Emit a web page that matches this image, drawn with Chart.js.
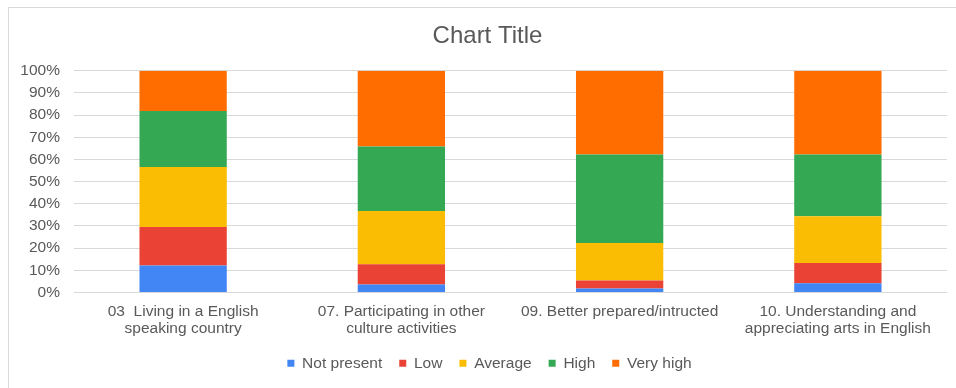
<!DOCTYPE html>
<html>
<head>
<meta charset="utf-8">
<script src="https://cdn.jsdelivr.net/npm/chart.js@4/dist/chart.umd.min.js"></script>
<style>
  html, body { margin: 0; padding: 0; background: #ffffff; overflow: hidden; }
  #wrap { position: relative; width: 956px; height: 388px; overflow: hidden; }
  #frame { position: absolute; left: 8px; top: 7px; width: 1200px; height: 600px;
           border-left: 1px solid #d9d9d9; border-top: 1px solid #d9d9d9; box-sizing: border-box; }
  #c { position: absolute; left: 0; top: 0; }
</style>
</head>
<body>
<div id="wrap">
  <div id="frame"></div>
  <canvas id="c" width="956" height="388"></canvas>
</div>
<script>
// Survey items (multi-line axis labels)
const categories = [
  ["03  Living in a English", "speaking country"],
  ["07. Participating in other", "culture activities"],
  ["09. Better prepared/intructed"],
  ["10. Understanding and", "appreciating arts in English"]
];

// Share of answers per rating level (%)
const notPresent = [12.2, 3.6, 1.8, 4.2];
const low        = [17.4, 9.1, 3.6, 9.1];
const average    = [27.0, 24.1, 16.9, 21.1];
const high       = [25.3, 29.0, 39.9, 27.8];
const veryHigh   = [18.1, 34.2, 37.8, 37.8];

const seriesNames = ["Not present", "Low", "Average", "High", "Very high"];
const seriesColors = ["#4285F4", "#EA4335", "#FBBC04", "#34A853", "#FF6D01"];
const seriesValues = [notPresent, low, average, high, veryHigh];

// Percentage tick labels on the value axis
const yTickValues = [0, 10, 20, 30, 40, 50, 60, 70, 80, 90, 100];

Chart.defaults.font.family = "'Liberation Sans', Arial, sans-serif";
Chart.defaults.color = "#595959";

// Centre the title and legend on the whole framed card rather than the canvas
const centreOnCard = {
  id: "centreOnCard",
  afterLayout(chart) {
    if (chart.titleBlock) { chart.titleBlock.left += 14; chart.titleBlock.right += 14; }
    if (chart.legend) { chart.legend.left += 16; chart.legend.right += 16; }
  }
};

new Chart(document.getElementById("c"), {
  type: "bar",
  data: {
    labels: categories,
    datasets: seriesNames.map((name, i) => ({
      label: name,
      data: seriesValues[i],
      backgroundColor: seriesColors[i],
      borderWidth: 0,
      categoryPercentage: 1.0,
      barPercentage: 0.4
    }))
  },
  plugins: [centreOnCard],
  options: {
    responsive: false,
    animation: false,
    layout: { padding: { left: 0, right: 9, top: 0, bottom: 7 } },
    plugins: {
      title: {
        display: true,
        text: "Chart Title",
        color: "#595959",
        font: { size: 24, weight: "normal" },
        padding: { top: 22, bottom: 20 }
      },
      legend: {
        position: "bottom",
        labels: {
          boxWidth: 7,
          boxHeight: 7,
          padding: 17,
          color: "#595959",
          font: { size: 15.5 }
        }
      },
      tooltip: { enabled: false }
    },
    scales: {
      x: {
        stacked: true,
        afterFit: (scale) => { scale.height = 46; },
        grid: { display: false, drawTicks: false },
        border: { display: false },
        ticks: {
          padding: 11,
          maxRotation: 0,
          autoSkip: false,
          color: "#595959",
          font: { size: 15.5, lineHeight: 1.1 }
        }
      },
      y: {
        stacked: true,
        min: 0,
        max: 100,
        afterFit: (scale) => { scale.width = 74; },
        afterBuildTicks: (scale) => { scale.ticks = yTickValues.map(v => ({ value: v })); },
        grid: { color: "#d9d9d9", lineWidth: 1, drawTicks: false },
        border: { display: false },
        ticks: {
          padding: 14,
          autoSkip: false,
          color: "#595959",
          font: { size: 15.5 },
          callback: (v) => v + "%"
        }
      }
    }
  }
});
</script>
</body>
</html>
